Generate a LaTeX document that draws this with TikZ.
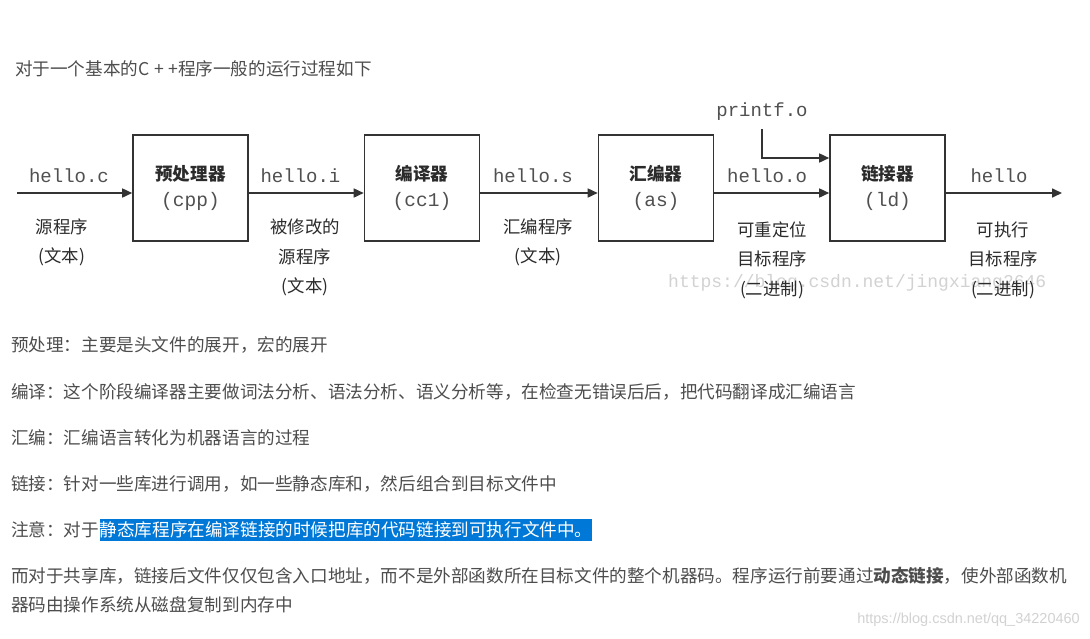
\documentclass[tikz,border=0pt]{standalone}
\usepackage{fontspec}
\setmainfont{Noto Sans CJK SC}
\newfontfamily\monof{Liberation Mono}
\newfontfamily\sansf{Liberation Sans}
\usetikzlibrary{arrows.meta}
\definecolor{txt}{HTML}{4D4D4D}
\definecolor{lab}{HTML}{2B2B2B}
\definecolor{monoc}{HTML}{505050}
\definecolor{boxc}{HTML}{333333}
\definecolor{hl}{HTML}{0078D7}
\definecolor{wm}{HTML}{D2D2D2}
\begin{document}
\begin{tikzpicture}[x=1pt,y=-1pt,
  stage/.style={draw=boxc,line width=1.6pt,minimum width=115pt,minimum height=106pt,inner sep=0pt,align=center,text=lab,font=\fontsize{17.6}{26}\selectfont},
  file/.style={font=\monof\fontsize{19}{22}\selectfont,text=monoc,inner sep=0pt},
  note/.style={align=center,text=lab,inner sep=0pt,font=\fontsize{17.4}{29.5}\selectfont},
  para/.style={anchor=west,inner sep=0pt,text=txt,font=\fontsize{17.6}{29}\selectfont,align=left},
  arr/.style={draw=boxc,line width=1.6pt,-{Triangle[length=10pt,width=9pt]}}]
\fill[white] (0,0) rectangle (1090,638);
\useasboundingbox (0,0) rectangle (1090,638);

% title
\node[para] (title) at (15,69) {对于一个基本的C{\kern5pt}+{\kern4pt}+程序一般的运行过程如下};

% watermark in figure
\node[inner sep=0pt,text=wm,font=\monof\fontsize{18}{20}\selectfont,anchor=west] (wm1) at (668,283) {https://blog.csdn.net/jingxiang2646};

% stages
\node[stage] (p1) at (190.5,188) {{\bfseries 预处理器}\\{\monof\fontsize{19.5}{26}\selectfont\color{monoc}(cpp)}};
\node[stage] (p2) at (422,188) {{\bfseries 编译器}\\{\monof\fontsize{19.5}{26}\selectfont\color{monoc}(cc1)}};
\node[stage] (p3) at (656,188) {{\bfseries 汇编器}\\{\monof\fontsize{19.5}{26}\selectfont\color{monoc}(as)}};
\node[stage] (p4) at (887.5,188) {{\bfseries 链接器}\\{\monof\fontsize{19.5}{26}\selectfont\color{monoc}(ld)}};

% connectors
\coordinate (in) at (17,193);
\coordinate (out) at (1062,193);
\draw[arr] (in) -- (in -| p1.west);
\draw[arr] ([yshift=-5pt]p1.east) -- ([yshift=-5pt]p2.west);
\draw[arr] ([yshift=-5pt]p2.east) -- ([yshift=-5pt]p3.west);
\draw[arr] ([yshift=-5pt]p3.east) -- ([yshift=-5pt]p4.west);
\draw[arr] ([yshift=-5pt]p4.east) -- (out);

\node[file] (pf) at (762,112) {printf.o};
\draw[arr] ([yshift=-8pt]pf.south) |- ([yshift=30pt]p4.west);

% file labels
\node[file] (f1) at (69,176) {hello.c};
\node[file] (f2) at (300.5,176) {hello.i};
\node[file] (f3) at (533,176) {hello.s};
\node[file] (f4) at (767,176) {hello.o};
\node[file] (f5) at (999,176) {hello};

% notes
\node[note] (n1) at (62,242.5) {源程序\\(文本)};
\node[note] (n2) at (305,257.5) {被修改的\\源程序\\(文本)};
\node[note] (n3) at (538,242.5) {汇编程序\\(文本)};
\node[note] (n4) at (772,260) {可重定位\\目标程序\\(二进制)};
\node[note] (n5) at (1003,260) {可执行\\目标程序\\(二进制)};

% paragraphs
\node[para] (t1) at (11,345) {预处理：主要是头文件的展开，宏的展开};
\node[para] (t2) at (11,392) {编译：这个阶段编译器主要做词法分析、语法分析、语义分析等，在检查无错误后后，把代码翻译成汇编语言};
\node[para] (t3) at (11,438) {汇编：汇编语言转化为机器语言的过程};
\node[para] (t4) at (11,484) {链接：针对一些库进行调用，如一些静态库和，然后组合到目标文件中};
\node[para] (t5) at (11,530) {注意：对于};
\node[para,fill=hl,text=white,minimum height=22pt,inner xsep=0pt] (t5h) at (t5.east) {静态库程序在编译链接的时候把库的代码链接到可执行文件中。};
\node[para] (t6) at (11,590.5) {而对于共享库，链接后文件仅仅包含入口地址，而不是外部函数所在目标文件的整个机器码。程序运行前要通过{\bfseries 动态链接}，使外部函数机\\器码由操作系统从磁盘复制到内存中};

% watermark bottom
\node[inner sep=0pt,text=wm,font=\sansf\fontsize{14.5}{16}\selectfont,anchor=east] (wm2) at (1080,620) {https://blog.csdn.net/qq\_34220460};
\end{tikzpicture}
\end{document}
